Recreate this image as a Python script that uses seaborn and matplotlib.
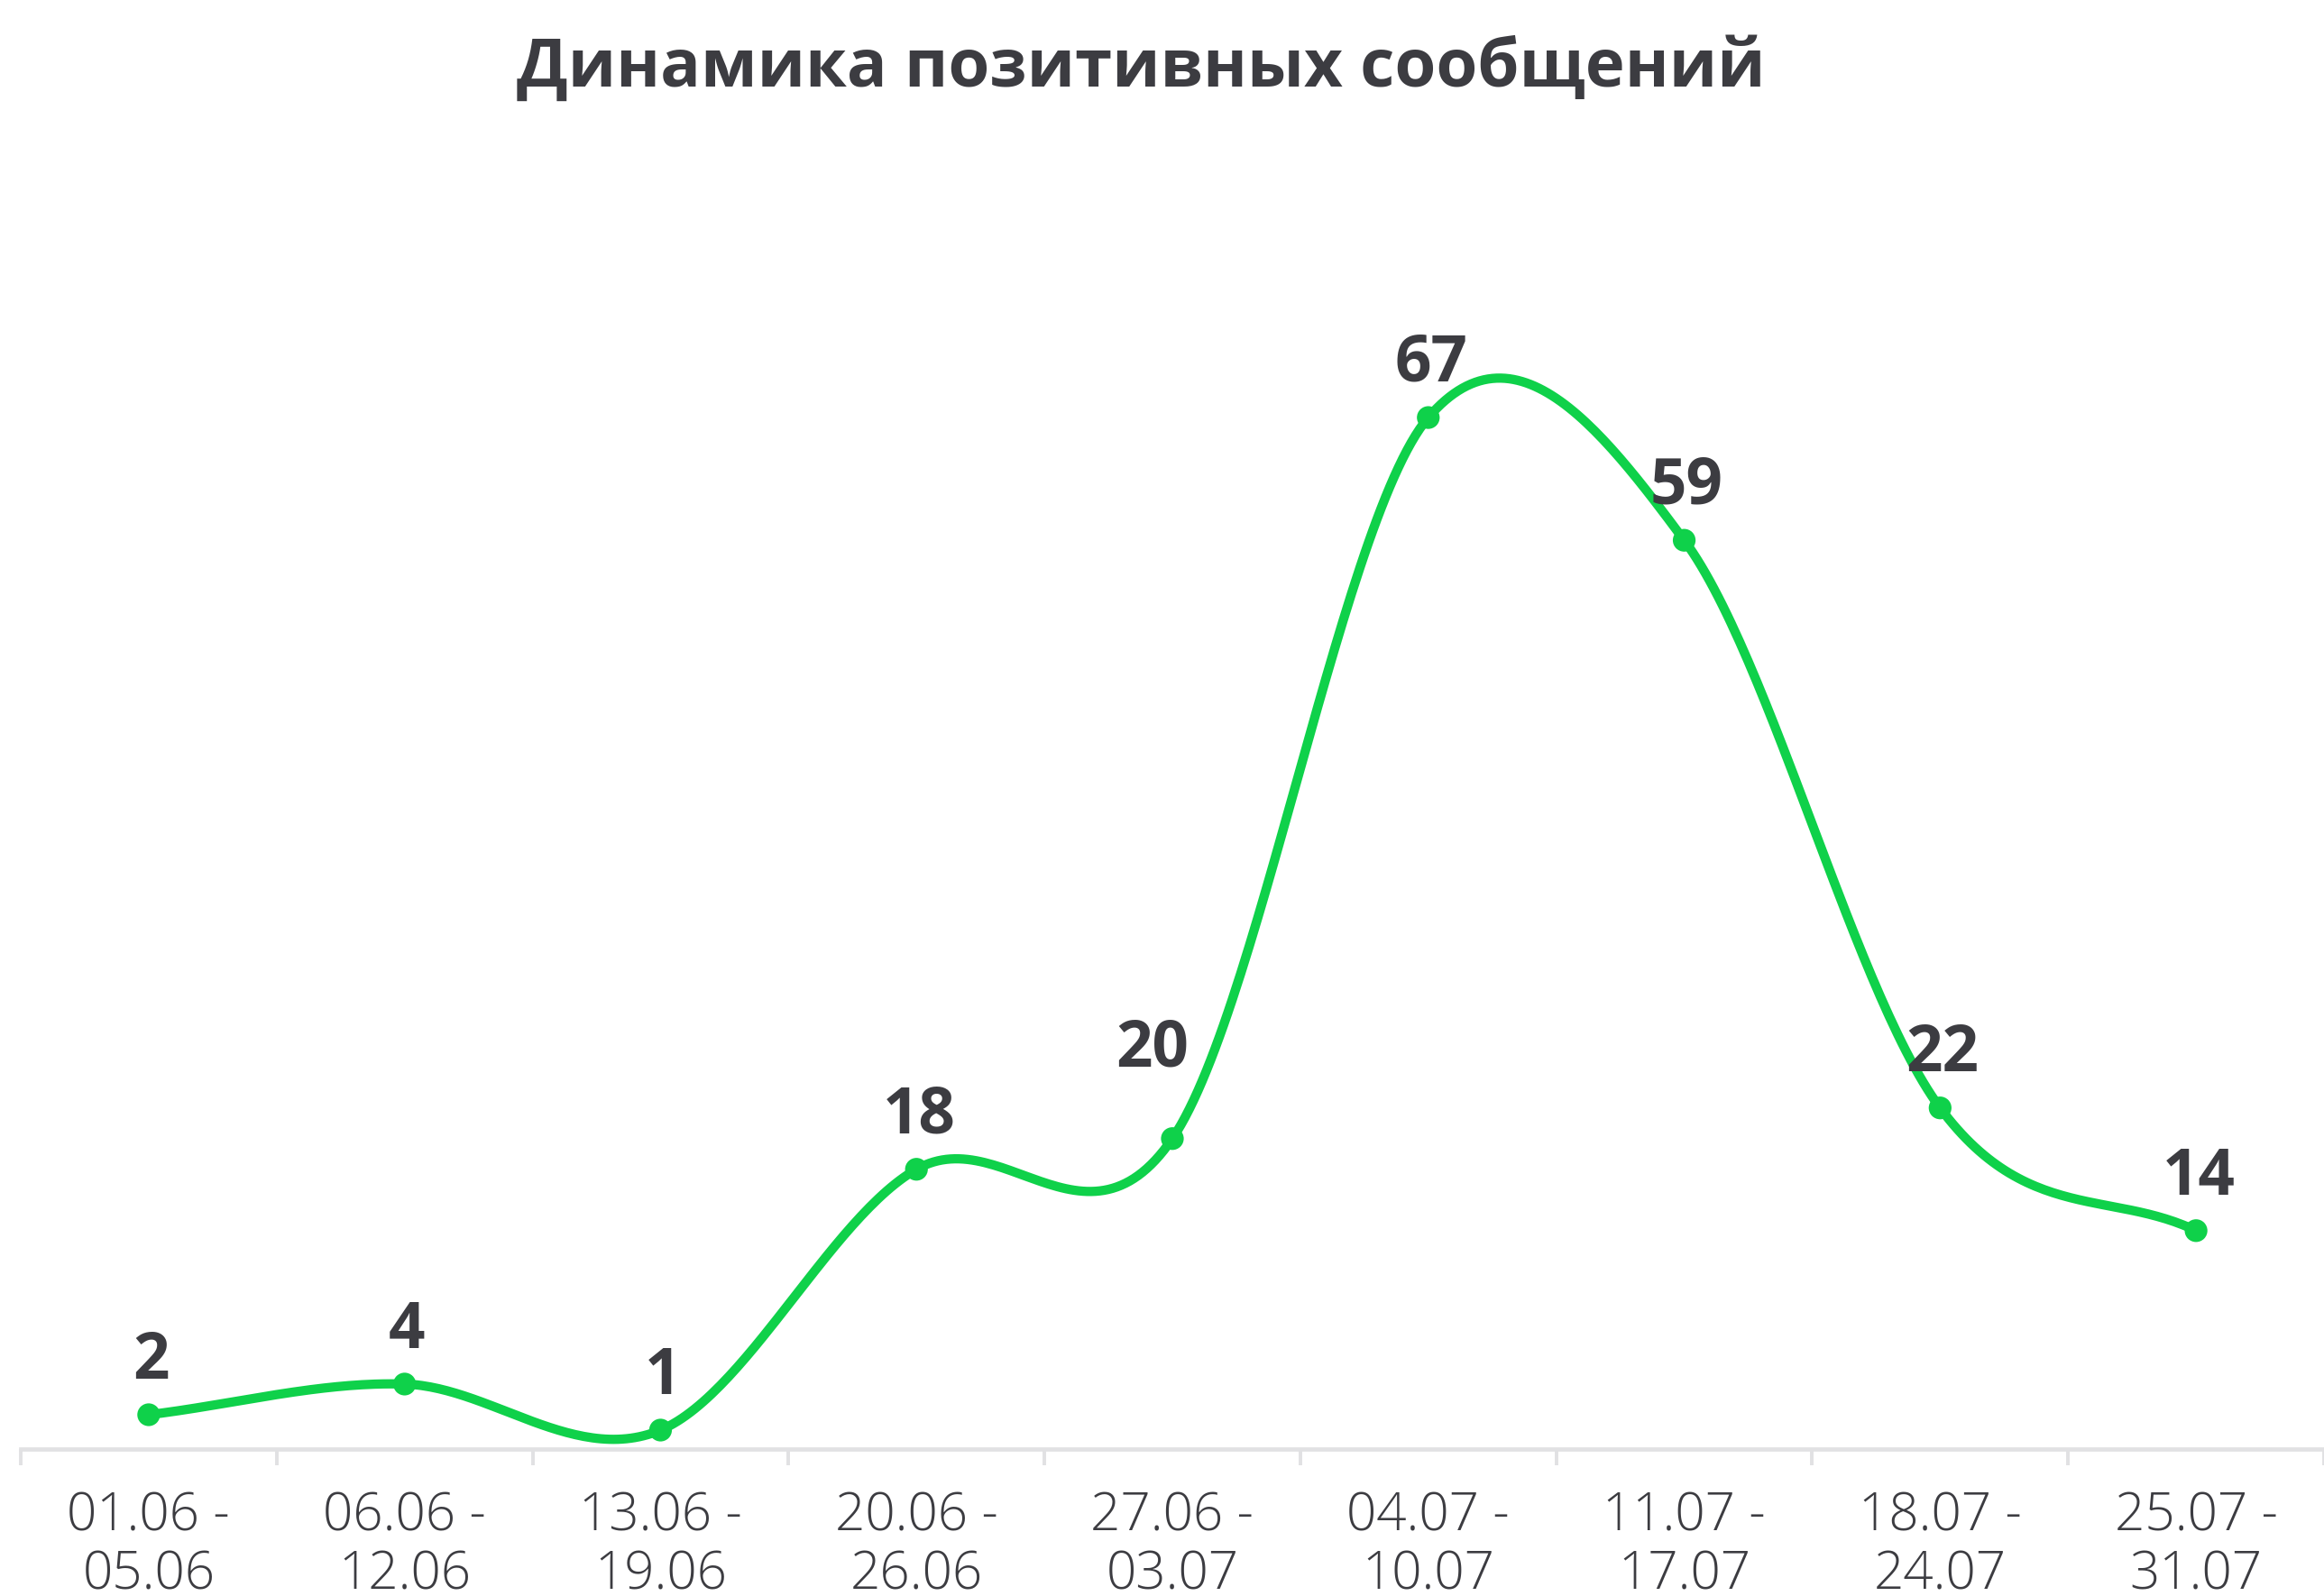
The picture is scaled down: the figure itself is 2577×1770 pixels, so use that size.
import numpy as np
import pandas as pd
import matplotlib
matplotlib.use("Agg")
import matplotlib.pyplot as plt
import seaborn as sns

# ---- data ----
categories = ["01.06 -\n05.06", "06.06 -\n12.06", "13.06 -\n19.06", "20.06 -\n26.06",
              "27.06 -\n03.07", "04.07 -\n10.07", "11.07 -\n17.07", "18.07 -\n24.07",
              "25.07 -\n31.07"]
values = [2, 4, 1, 18, 20, 67, 59, 22, 14]
title = "Динамика позитивных сообщений"

# ---- styles ----
green = "#0fd14a"
text_color = "#3c3c41"
axis_color = "#e1e1e3"
label_offsets = {4: (-16, 58)}

sns.set_theme(style="white")
plt.rcParams["font.family"] = ["Open Sans", "DejaVu Sans"]

W, H = 2577, 1770
fig = plt.figure(figsize=(W / 100, H / 100), dpi=100)
fig.patch.set_facecolor("white")
ax = fig.add_axes([23 / W, (H - 1607) / H, 1 - 23 / W, (1607 - 150) / H])

# Catmull-Rom smoothing of the series (for drawing the line)
x = np.arange(len(values), dtype=float)
y = np.array(values, dtype=float)
m = np.gradient(y)
xs, ys = [], []
n = 60
for i in range(len(x) - 1):
    t = np.linspace(0, 1, n, endpoint=(i == len(x) - 2))
    h00 = 2 * t**3 - 3 * t**2 + 1
    h10 = t**3 - 2 * t**2 + t
    h01 = -2 * t**3 + 3 * t**2
    h11 = t**3 - t**2
    xs.append(x[i] + t)
    ys.append(h00 * y[i] + h10 * m[i] + h01 * y[i + 1] + h11 * m[i + 1])
curve = pd.DataFrame({"x": np.concatenate(xs), "y": np.concatenate(ys)})
pts = pd.DataFrame({"x": x, "y": y})

sns.lineplot(data=curve, x="x", y="y", color=green, linewidth=7.4,
             estimator=None, sort=False, ax=ax, zorder=2)
sns.scatterplot(data=pts, x="x", y="y", color=green, s=330, edgecolor="none",
                ax=ax, zorder=3)

for i, v in enumerate(values):
    dx, dy = label_offsets.get(i, (2, 29))
    ax.annotate(str(v), (i, v), xytext=(dx, dy), textcoords="offset points",
                ha="center", va="baseline", fontsize=51, fontweight="bold",
                color=text_color)

ax.set_xlim(-0.5, len(values) - 0.5)
ax.set_ylim(-0.235, 85.4)
ax.set_xlabel("")
ax.set_ylabel("")
ax.set_yticks([])

ax.set_xticks(np.arange(-0.5, len(values), 1.0))
ax.set_xticklabels([""] * len(np.arange(-0.5, len(values), 1.0)))
ax.set_xticks(x, minor=True)
ax.set_xticklabels(categories, minor=True, fontsize=42, color=text_color,
                   fontweight="light", linespacing=1.12)
ax.tick_params(axis="x", which="major", bottom=True, length=13, width=2.8,
               color=axis_color, labelbottom=False)
ax.tick_params(axis="x", which="minor", bottom=True, length=0, pad=33)

for s in ["left", "top", "right"]:
    ax.spines[s].set_visible(False)
ax.spines["bottom"].set_color(axis_color)
ax.spines["bottom"].set_linewidth(3.4)
ax.grid(False)
ax.set_facecolor("white")

fig.text(1265 / W, 1 - 77 / H, title, ha="center", va="center",
         fontsize=53.5, fontweight="bold", color=text_color)

fig.savefig("out.png", dpi=100, facecolor="white")
